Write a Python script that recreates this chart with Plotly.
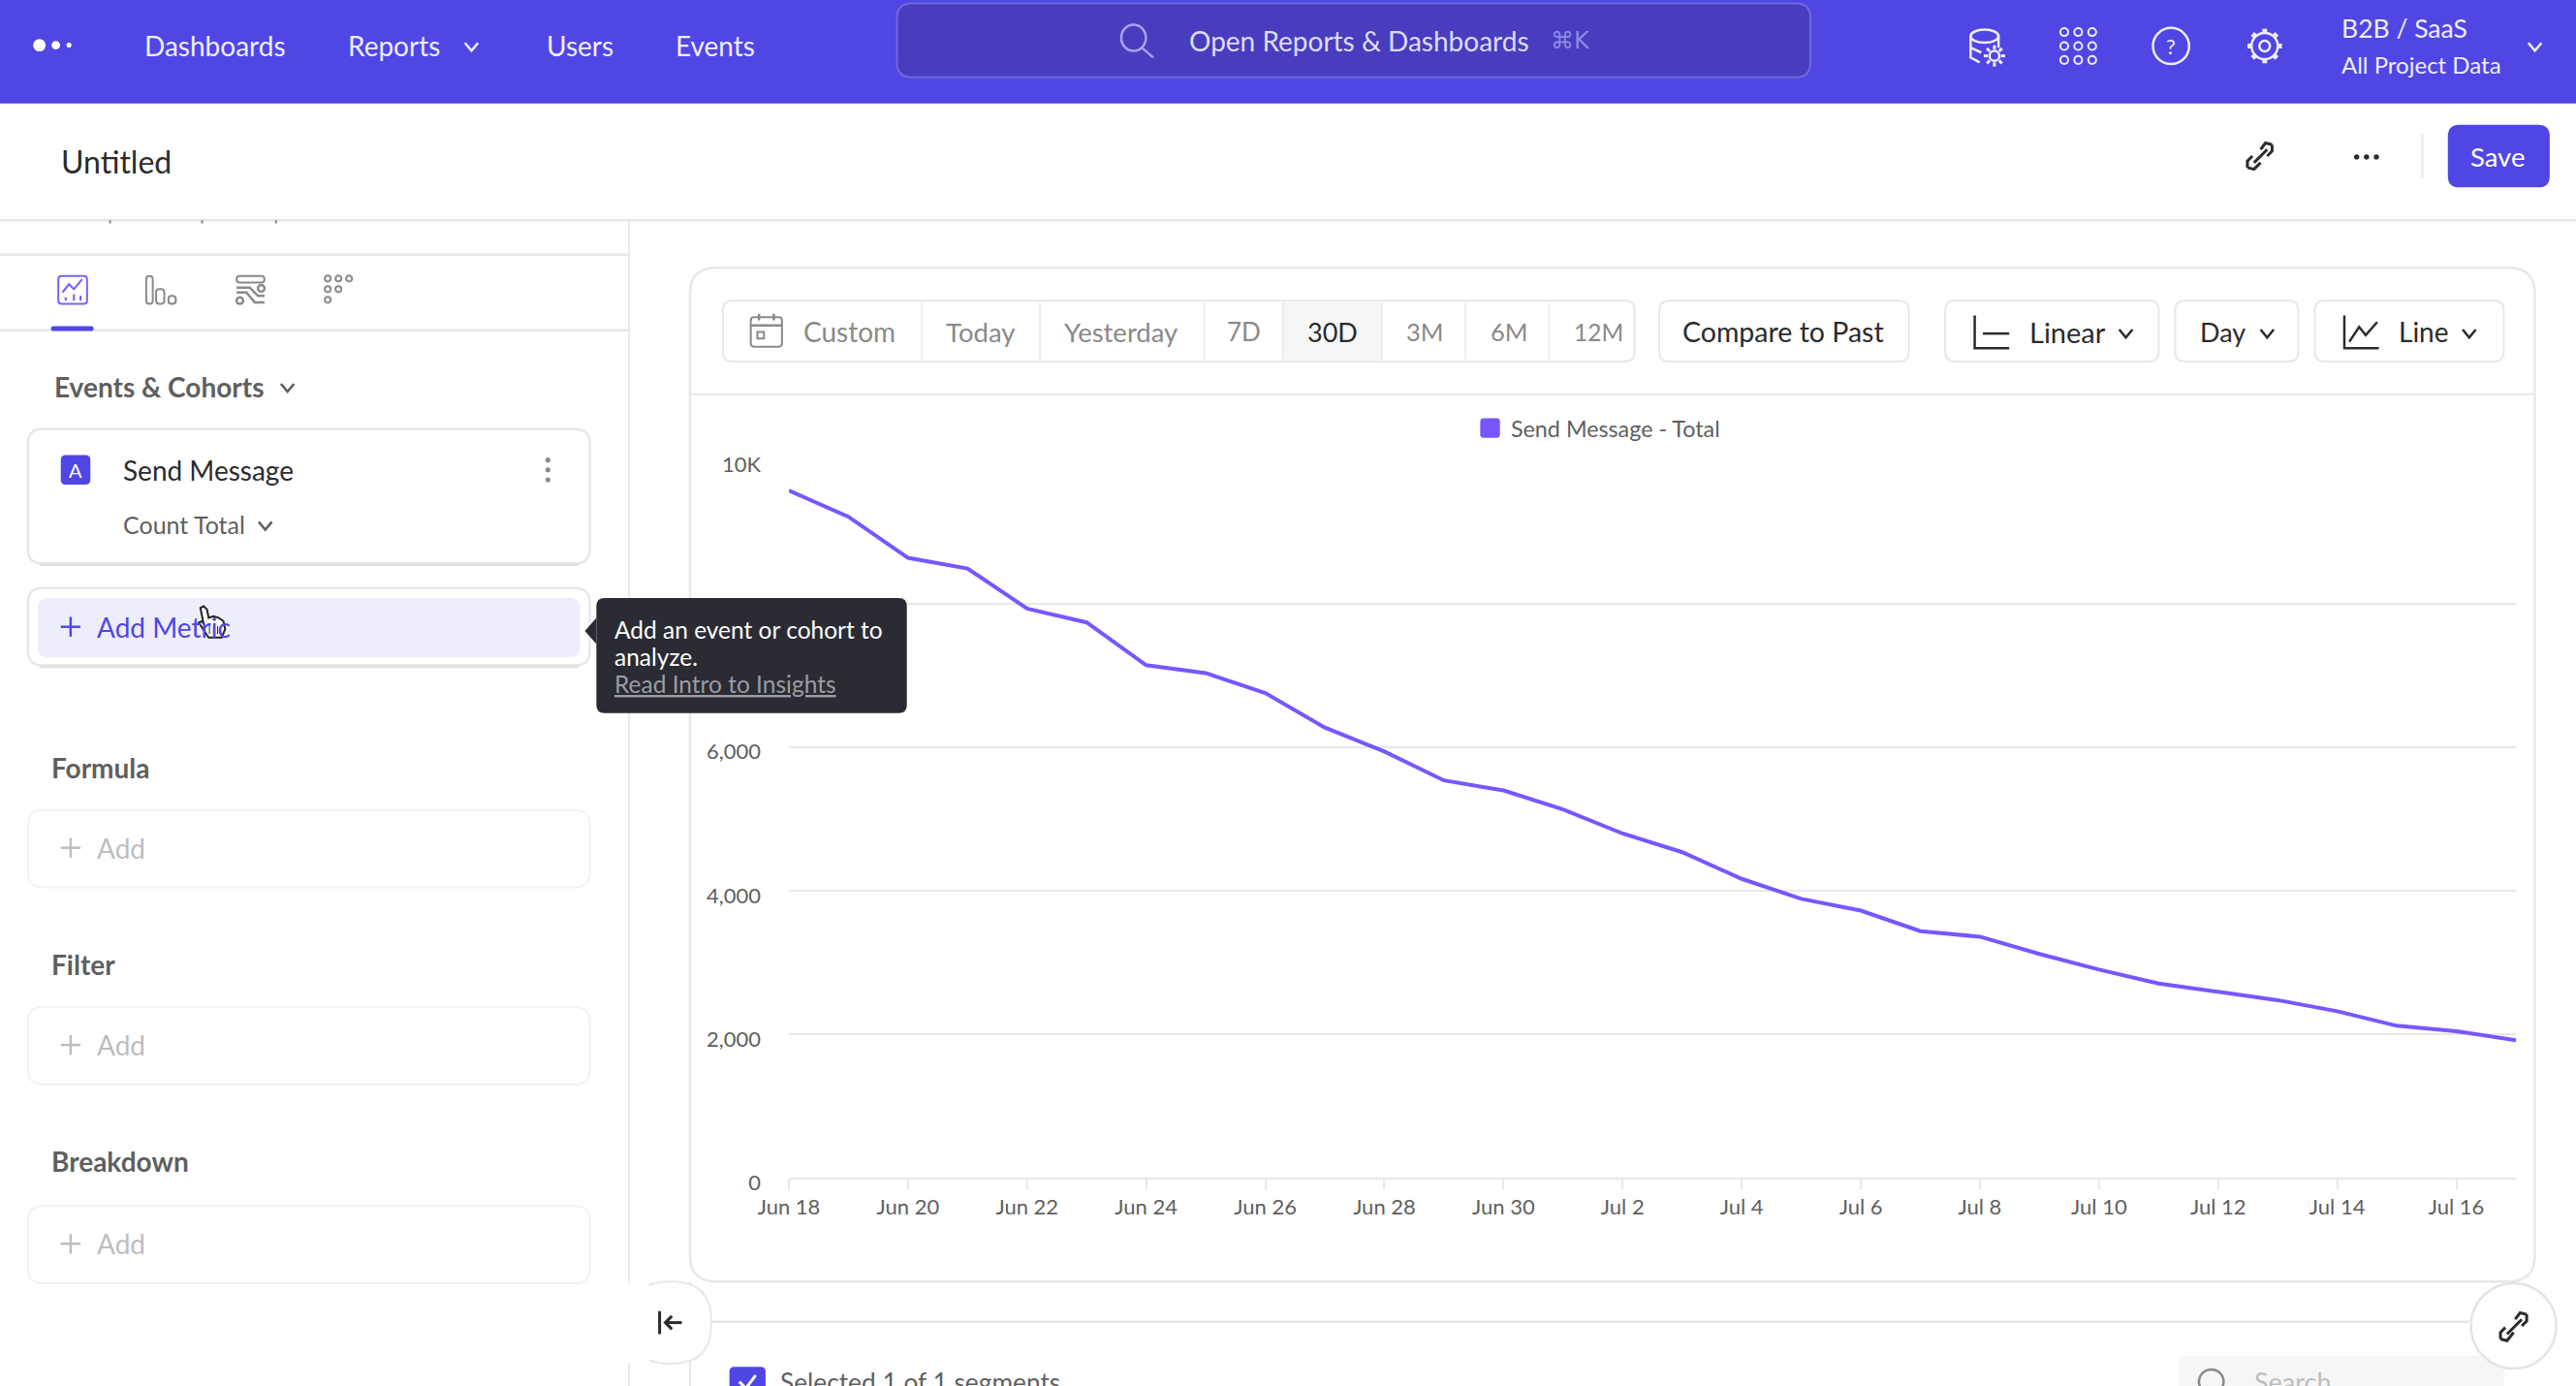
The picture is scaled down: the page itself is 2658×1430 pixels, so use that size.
import math
import plotly.graph_objects as go

# values
days = ["Jun 18", "Jun 19", "Jun 20", "Jun 21", "Jun 22", "Jun 23", "Jun 24", "Jun 25", "Jun 26", "Jun 27",
        "Jun 28", "Jun 29", "Jun 30", "Jul 1", "Jul 2", "Jul 3", "Jul 4", "Jul 5", "Jul 6", "Jul 7",
        "Jul 8", "Jul 9", "Jul 10", "Jul 11", "Jul 12", "Jul 13", "Jul 14", "Jul 15", "Jul 16", "Jul 17"]
send_message = [9574, 9209, 8636, 8488, 7930, 7736, 7140, 7031, 6752, 6271,
                5938, 5535, 5395, 5132, 4795, 4535, 4163, 3884, 3721, 3434,
                3357, 3116, 2899, 2705, 2589, 2473, 2318, 2116, 2039, 1915]
y_ticks = [0, 2000, 4000, 6000, 8000, 10000]
y_tick_labels = ["0", "2,000", "4,000", "6,000", "8,000", "10K"]
x_ticks = days[:29:2]

W, H = 2658, 1430
# the page furniture is laid out in a 1568 wide grid
GRID = W / 1568
FONT = "Lato"

PURPLE = "#5046e4"
LINE_PURPLE = "#7856ff"
BORDER = "#e8e8e8"
DARK = "#2b2b2b"
MID = "#5f5f5f"
SOFT = "#8a8a8a"
FAINT = "#bdbdbd"

shapes = []
annotations = []


def fx(v):
    return v * GRID / W


def fy(v):
    return 1 - v * GRID / H


def rect(x0, y0, x1, y1, r=0, fill="white", line=None, width=2):
    a, b, c, d = fx(x0), fy(y0), fx(x1), fy(y1)
    rx, ry = r * GRID / W, r * GRID / H
    p = (f"M{a+rx},{b} L{c-rx},{b} Q{c},{b} {c},{b-ry} L{c},{d+ry} Q{c},{d} {c-rx},{d} "
         f"L{a+rx},{d} Q{a},{d} {a},{d+ry} L{a},{b-ry} Q{a},{b} {a+rx},{b} Z")
    shapes.append(dict(type="path", xref="paper", yref="paper", path=p, fillcolor=fill, layer="above",
                       line=dict(color=line or fill, width=width if line else 0)))


def poly(points, color=DARK, width=2.5, fill=None, close=False):
    p = "M" + " L".join(f"{fx(a)},{fy(b)}" for a, b in points) + (" Z" if close else "")
    shapes.append(dict(type="path", xref="paper", yref="paper", path=p, layer="above",
                       fillcolor=fill or "rgba(0,0,0,0)", line=dict(color=color, width=width)))


def circle(cx, cy, r, color=DARK, width=2.5, fill=None, ry=None):
    ry = ry or r
    shapes.append(dict(type="circle", xref="paper", yref="paper", layer="above",
                       x0=fx(cx - r), x1=fx(cx + r), y0=fy(cy + ry), y1=fy(cy - ry),
                       fillcolor=fill or "rgba(0,0,0,0)", line=dict(color=color, width=width)))


def text(x, y, s, size=28, color=DARK, anchor="left", font=FONT):
    annotations.append(dict(xref="paper", yref="paper", x=fx(x), y=fy(y), text=s, showarrow=False,
                            xanchor=anchor, yanchor="middle", xshift=0, borderpad=0, borderwidth=0,
                            font=dict(family=font, size=size, color=color)))


def chevron(x, y, color=DARK, s=4):
    poly([(x - s, y - s * 0.6), (x, y + s * 0.6), (x + s, y - s * 0.6)], color=color, width=2.5)


def dot_grid(cx, cy, cols, color, r=1.8, gap=6.5, width=2):
    for i, row in enumerate(cols):
        for j in range(row):
            circle(cx + (j - 1) * gap, cy + (i - 1) * gap, r, color=color, width=width)


# top nav
rect(0, 0, 1568, 63, fill=PURPLE)
circle(24, 27.5, 3.8, color="white", width=0, fill="white")
circle(34, 27.5, 2.6, color="white", width=0, fill="white")
circle(42, 27.5, 1.5, color="white", width=0, fill="white")
nav_text = "#eeedfc"
text(88, 27.5, "Dashboards", color=nav_text)
text(212, 27.5, "Reports", color=nav_text)
chevron(287, 28.5, nav_text)
text(333, 27.5, "Users", color=nav_text)
text(411, 27.5, "Events", color=nav_text)
rect(546, 2, 1102, 47, r=9, fill="#483dbf", line="#6e69d8")
circle(690, 23, 7.5, color="#a7a3ee", ry=8)
poly([(695, 29), (702, 35)], color="#a7a3ee")
text(724, 25, "Open Reports & Dashboards", color="#dedcf8")
text(944, 25, "⌘K", size=24, color="#8f8ae4", font="DejaVu Sans")
# database icon
circle(1208, 22, 8.5, color=nav_text, ry=4)
poly([(1199.5, 22), (1199.5, 35), (1205, 38)], color=nav_text)
poly([(1216.5, 22), (1216.5, 29)], color=nav_text)
poly([(1199.5, 29), (1206, 32)], color=nav_text)
circle(1214, 34, 3, color=nav_text)
for k in range(8):
    a = k * math.pi / 4
    poly([(1214 + 4 * math.cos(a), 34 + 4 * math.sin(a)), (1214 + 6.5 * math.cos(a), 34 + 6.5 * math.sin(a))],
         color=nav_text, width=3)
dot_grid(1265, 28, [3, 3, 3], nav_text, r=2.4, gap=8.5)
circle(1321.5, 28, 11, color=nav_text)
text(1321.5, 28, "?", size=22, color=nav_text, anchor="center")
# settings gear
circle(1378.5, 28, 3.2, color=nav_text)
circle(1378.5, 28, 8, color=nav_text)
for k in range(8):
    a = k * math.pi / 4
    poly([(1378.5 + 8 * math.cos(a), 28 + 8 * math.sin(a)), (1378.5 + 10.5 * math.cos(a), 28 + 10.5 * math.sin(a))],
         color=nav_text, width=5)
text(1425, 17, "B2B / SaaS", color=nav_text, size=26.5)
text(1425, 39, "All Project Data", color=nav_text, size=24)
chevron(1543, 28.5, nav_text)

# report header
text(37, 98, "Untitled", size=32)
poly([(1383, 88), (1379, 87), (1376, 91)], width=3)
poly([(1380, 91), (1372, 99)], width=3)
poly([(1368, 102), (1372, 103), (1376, 99)], width=3)
poly([(1383, 88), (1383, 92), (1380, 95)], width=3)
poly([(1368, 102), (1368, 98), (1371, 95)], width=3)
for dx in (1434.5, 1440.5, 1446.5):
    circle(dx, 95.5, 1.6, width=0, fill=DARK)
poly([(1474.5, 82), (1474.5, 108)], color=BORDER, width=2)
rect(1490, 76, 1552, 114, r=7, fill=PURPLE)
text(1520.5, 95.5, "Save", color="white", anchor="center", size=27.5)
poly([(0, 134), (1568, 134)], color=BORDER, width=2.5)

# left panel
poly([(383, 134), (383, 844)], color=BORDER, width=2)
for cx in (67, 123, 168):
    poly([(cx, 134), (cx, 136)], color=SOFT, width=2)
poly([(0, 155), (383, 155)], color=BORDER, width=2.5)
poly([(0, 201), (383, 201)], color=BORDER, width=2.5)
# tab icons
rect(35.5, 168, 53, 185, r=2, fill="white", line="#7468f0")
poly([(38, 178), (42, 173), (45, 176), (50, 170)], color=LINE_PURPLE, width=2)
poly([(40, 183), (40, 181)], color=LINE_PURPLE, width=2)
poly([(45, 183), (45, 179)], color=LINE_PURPLE, width=2)
poly([(49, 183), (49, 180)], color=LINE_PURPLE, width=2)
rect(89, 168, 93, 185, r=2, line=SOFT)
rect(95, 176, 100, 185, r=2, line=SOFT)
rect(102.5, 180, 107, 185, r=2, line=SOFT)
rect(144, 168, 161, 172, r=2, line=SOFT)
poly([(144, 178), (150, 178), (155, 184), (161, 184)], color=SOFT)
poly([(144, 175), (152, 175), (157, 180), (161, 180)], color=SOFT)
circle(146, 183, 2, color=SOFT)
circle(159, 175.5, 2, color=SOFT)
dot_grid(206, 176, [3, 2, 1], SOFT, r=1.8, gap=6.5)
rect(31, 198.5, 57, 201.5, r=1.5, fill=PURPLE)

text(33, 235.5, "<b>Events &amp; Cohorts</b>", color=MID, size=28)
chevron(175, 236, MID)
rect(17, 261, 359, 343, r=9, line=BORDER, width=2.5)
poly([(24, 343.5), (352, 343.5)], color="#e2e2e6", width=3.5)
rect(37, 277, 55, 295, r=3, fill=PURPLE)
text(46, 286, "A", color="white", size=20, anchor="center")
text(75, 286, "Send Message")
for dy in (280, 286, 292):
    circle(333.5, dy, 1.5, width=0, fill="#8a8a8a")
text(75, 319, "Count Total", color=MID, size=25)
chevron(161.5, 320, MID)

rect(17, 358, 359, 405, r=9, line=BORDER, width=2.5)
poly([(24, 405.5), (352, 405.5)], color="#e2e2e6", width=3.5)
rect(23, 364, 353, 400, r=6, fill="#eeedfb")
poly([(43, 375.5), (43, 387.5)], color=PURPLE)
poly([(37, 381.5), (49, 381.5)], color=PURPLE)
text(59, 381.5, "Add Metric", color=PURPLE)
rows_y = [(467, "Formula", 493, 540, 516), (587, "Filter", 613, 660, 636), (707, "Breakdown", 734, 781, 757)]
for head_y, head, top, bottom, add_y in rows_y:
    text(31.5, head_y, f"<b>{head}</b>", color=MID, size=28)
    rect(17, top, 359, bottom, r=9, line="#f3f3f3", width=2)
    poly([(43, add_y - 6), (43, add_y + 6)], color=FAINT)
    poly([(37, add_y), (49, add_y)], color=FAINT)
    text(59, add_y, "Add", color=FAINT)

# chart card
rect(420, 163, 1543, 780, r=16, line=BORDER, width=2.5, fill="rgba(0,0,0,0)")
poly([(420, 240), (1543, 240)], color=BORDER, width=2)
rect(440, 183, 995, 220, r=6, fill="rgba(0,0,0,0)", line=BORDER)
rect(781, 184, 841, 219, fill="#f6f6f6")
for vx in (561, 633, 733, 781, 841, 892, 943):
    poly([(vx, 184), (vx, 219)], color=BORDER, width=1.5)
rect(457, 193, 476, 211, r=2, line=SOFT, fill="rgba(0,0,0,0)")
poly([(457, 198), (476, 198)], color=SOFT)
poly([(462, 191), (462, 195)], color=SOFT)
poly([(471, 191), (471, 195)], color=SOFT)
rect(461, 202, 465, 206, line=SOFT)
range_labels = [("Custom", 489, 28), ("Today", 576, 27.5), ("Yesterday", 648, 27.5), ("7D", 747, 26),
                ("30D", 796, 27), ("3M", 856, 25.5), ("6M", 907, 25.5), ("12M", 958, 24.5)]
for label, lx, lsize in range_labels:
    text(lx, 202, label, size=lsize, color=DARK if label == "30D" else SOFT)
rect(1010, 183, 1162, 220, r=6, line=BORDER)
text(1024, 202, "Compare to Past", size=28.5)
rect(1184, 183, 1314, 220, r=6, line=BORDER)
poly([(1202, 192), (1202, 212), (1223, 212)], color=DARK)
poly([(1207, 203), (1223, 203)], color=DARK)
text(1235, 202, "Linear", size=29)
chevron(1294, 203)
rect(1324, 183, 1399, 220, r=6, line=BORDER)
text(1339, 202, "Day", size=27)
chevron(1380, 203)
rect(1409, 183, 1524, 220, r=6, line=BORDER)
poly([(1427, 192), (1427, 212), (1448, 212)], color=DARK)
poly([(1430, 208), (1436, 199), (1440, 204), (1447, 196)], color=DARK)
text(1460, 202, "Line", size=28)
chevron(1503, 203)

# legend swatch and label
rect(901, 254.5, 913, 266.5, r=2, fill=LINE_PURPLE)
text(919.5, 260.5, "Send Message - Total", color=MID, size=23.3)

# tooltip sits over the 8,000 row
rect(363, 364, 552, 434, r=5, fill="#2b2b33")
poly([(363, 376), (356, 384), (363, 392)], color="#2b2b33", width=0, fill="#2b2b33", close=True)
text(374, 383, "Add an event or cohort to", color="white", size=24.5)
text(374, 399.5, "analyze.", color="white", size=24.5)
text(374, 416, "<u>Read Intro to Insights</u>", color="#9c9ca2", size=24.5)

# hand cursor over Add Metric
hand = [(122, 370), (124, 369), (126, 371), (127, 376), (130, 375), (133, 376), (136, 378), (137, 383),
        (135, 388), (127, 388), (123, 382), (121, 379), (123, 378), (124, 380)]
poly(hand, color="#222222", width=2, fill="white", close=True)
for hx in (127.5, 130, 132.5):
    poly([(hx, 381), (hx, 386)], color="#222222", width=1)

# lower section and floating buttons
poly([(433, 804.5), (1503, 804.5)], color=BORDER, width=2.5)
poly([(420, 780), (420, 844)], color=BORDER, width=2)
rect(444, 832, 466, 850, r=3, fill=PURPLE)
poly([(450, 841), (454, 845), (460, 837)], color="white", width=3)
text(475, 841, "Selected 1 of 1 segments", color=MID, size=26.3)
rect(1326, 825, 1524, 850, r=4, fill="#f6f6f6")
circle(1346, 841, 7.5, color=SOFT)
text(1372, 841, "Search", color=FAINT, size=27)
rect(383, 780, 433, 830, r=24, fill="white", line=BORDER)
rect(380, 781, 395, 829, fill="white")
poly([(401.5, 798), (401.5, 812)], width=3)
poly([(415, 805), (405, 805)], width=3)
poly([(409, 801), (405, 805), (409, 809)], width=3)
circle(1530, 807, 26, color="#e4e4e8", fill="white")
poly([(1538, 800), (1534, 799), (1531, 803)], width=3)
poly([(1535, 803), (1526, 812)], width=3)
poly([(1522, 815), (1526, 816), (1530, 811)], width=3)
poly([(1538, 800), (1538, 804), (1535, 807)], width=3)
poly([(1522, 815), (1522, 811), (1525, 808)], width=3)

fig = go.Figure()
fig.add_trace(go.Scatter(x=days, y=send_message, mode="lines", name="Send Message - Total",
                         line=dict(color=LINE_PURPLE, width=4), hoverinfo="x+y"))

fig.update_layout(
    width=W, height=H, margin=dict(l=0, r=0, t=0, b=0, pad=0, autoexpand=False), autosize=False,
    paper_bgcolor="white", plot_bgcolor="white", showlegend=False,
    font=dict(family=FONT, size=22, color=MID),
    shapes=shapes, annotations=annotations,
    xaxis=dict(type="category", categoryorder="array", categoryarray=days, domain=[814 / W, 2596 / W],
               range=[0, 29], tickvals=x_ticks, ticktext=x_ticks, ticks="outside", ticklen=10, tickwidth=2,
               tickcolor=BORDER, showgrid=False, showline=True, linecolor=BORDER, linewidth=2, zeroline=False,
               tickfont=dict(size=22, color=MID)),
    yaxis=dict(domain=[1 - 1215 / H, 1 - 474.6 / H], range=[0, 10000], tickvals=y_ticks, ticktext=y_tick_labels,
               showgrid=True, gridcolor=BORDER, gridwidth=2, zeroline=False, showline=False, ticks="",
               ticklabelstandoff=28, ticklabelshift=5, tickfont=dict(size=22, color=MID)),
)

fig.write_html("out.html", config=dict(displayModeBar=False), post_script="document.body.style.margin='0';")
